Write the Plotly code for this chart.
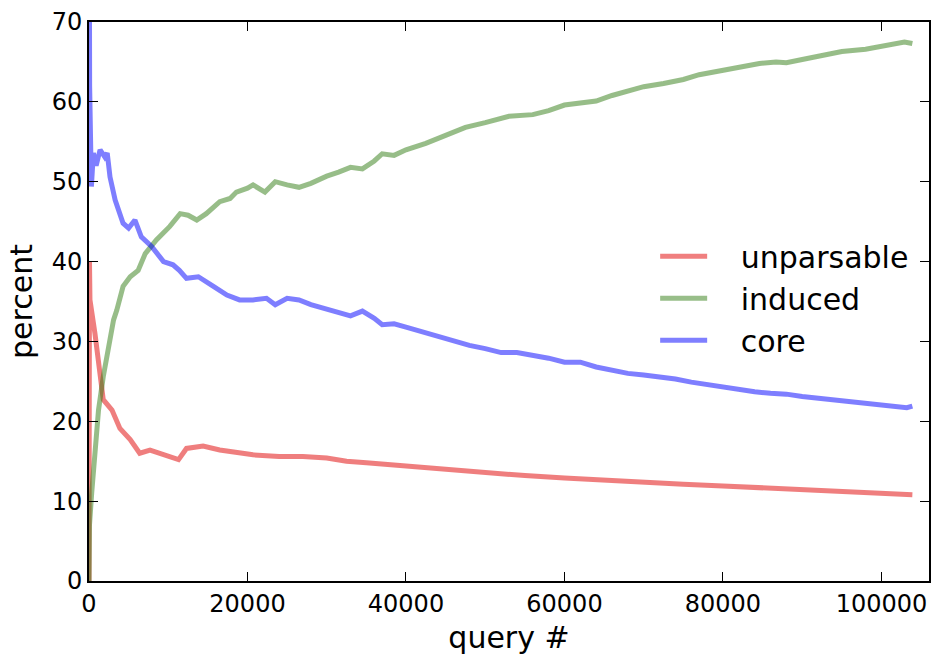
import plotly.graph_objects as go

# ---- data ----
core_x = [0, 80, 300, 550, 900, 1400, 2000, 2300, 2650, 3300, 4300, 5000, 5800, 6600, 7900,
          9400, 10600, 11400, 12300, 13800, 15700, 17400, 19000, 20700, 22400, 23500, 25000,
          26500, 28000, 30000, 31500, 33000, 34500, 36000, 37000, 38500, 40000, 42000, 44000,
          46000, 48000, 50000, 52000, 54000, 56000, 58000, 60000, 62000, 64000, 66000, 68000,
          70000, 72000, 74000, 76000, 78000, 80000, 82000, 84000, 86000, 88000, 90000, 92000,
          94000, 96000, 98000, 100000, 102000, 103200, 103900]
core_y = [100, 62, 49.4, 53.6, 52.0, 54.0, 53.1, 53.6, 50.6, 47.7, 44.8, 44.2, 45.2, 43.1, 41.9,
          40.0, 39.6, 38.9, 37.9, 38.1, 36.9, 35.8, 35.2, 35.2, 35.4, 34.6, 35.4,
          35.2, 34.6, 34.0, 33.5, 33.2, 33.8, 32.9, 32.1, 32.2, 31.8, 31.2, 30.6,
          30.1, 29.5, 29.1, 28.6, 28.6, 28.3, 27.9, 27.4, 27.4, 26.8, 26.4, 26.0,
          25.8, 25.6, 25.3, 24.9, 24.6, 24.2, 24.0, 23.7, 23.5, 23.4, 23.1, 22.9,
          22.6, 22.4, 22.3, 22.1, 21.8, 21.7, 21.9]

induced_x = [0, 60, 340, 1200, 1800, 2650, 3100, 3500, 4300, 5200, 6200, 7100, 8500, 10200,
             11500, 12500, 13600, 14800, 16500, 17800, 18600, 20000, 20700, 22200, 23500,
             25000, 26500, 28000, 30000, 31500, 33000, 34500, 36000, 37000, 38500, 40000,
             42500, 45000, 47500, 50000, 53000, 56000, 58000, 60000, 62000, 64000, 66000,
             68000, 70000, 72500, 75000, 77000, 80000, 82500, 84600, 86700, 88000, 90000,
             92500, 95000, 98000, 100000, 102900, 103900]
induced_y = [0, 7, 11.0, 21.4, 25.6, 30.2, 32.7, 33.9, 36.9, 38.1, 38.9, 41.0, 42.7, 44.4,
             46.0, 45.8, 45.2, 46.0, 47.5, 47.9, 48.7, 49.2, 49.6, 48.7, 50.0,
             49.6, 49.3, 49.8, 50.7, 51.2, 51.8, 51.6, 52.6, 53.5, 53.3, 54.0,
             54.8, 55.8, 56.8, 57.4, 58.2, 58.4, 58.9, 59.6, 59.9, 60.1, 60.8,
             61.4, 61.9, 62.3, 62.8, 63.4, 64.0, 64.4, 64.8, 65.0, 64.9, 65.3,
             65.8, 66.3, 66.6, 67.0, 67.5, 67.3]

unparsable_x = [0, 60, 120, 750, 1400, 1800, 2900, 3900, 5200, 6400, 7700, 9400, 11300, 12300,
                14400, 16500, 19000, 20700, 24000, 27000, 30000, 32500, 35000, 37500, 40000,
                45000, 50000, 55000, 60000, 65000, 70000, 75000, 80000, 85000, 90000, 95000,
                100000, 103900]
unparsable_y = [0, 40, 35.2, 31.0, 25.6, 22.7, 21.4, 19.1, 17.7, 16.0, 16.4, 15.8, 15.2, 16.6,
                16.9, 16.4, 16.1, 15.8, 15.6, 15.6, 15.4, 15.0, 14.8, 14.6, 14.4,
                13.9, 13.6, 13.2, 12.9, 12.6, 12.3, 12.1, 11.9, 11.7, 11.4, 11.2,
                11.0, 10.8]

series_names = ["unparsable", "induced", "core"]
x_ticks = [0, 20000, 40000, 60000, 80000, 100000]
y_ticks = [0, 10, 20, 30, 40, 50, 60, 70]

FONT = "DejaVu Sans"
PAD = "\u00a0\u00a0\u00a0"

fig = go.Figure()
fig.add_trace(go.Scatter(x=unparsable_x, y=unparsable_y, mode="lines", name=PAD + series_names[0],
                         line=dict(color="rgb(225,0,0)", width=5), opacity=0.5))
fig.add_trace(go.Scatter(x=induced_x, y=induced_y, mode="lines", name=PAD + series_names[1],
                         line=dict(color="rgb(50,125,20)", width=5), opacity=0.5))
fig.add_trace(go.Scatter(x=core_x, y=core_y, mode="lines", name=PAD + series_names[2],
                         line=dict(color="rgb(0,0,255)", width=5), opacity=0.5))

axis_common = dict(showgrid=False, zeroline=False, showline=True, linecolor="black",
                   linewidth=2, mirror="allticks", ticks="inside", ticklen=9, tickwidth=1,
                   tickcolor="black", automargin=False,
                   tickfont=dict(family=FONT, size=24, color="black"))

fig.update_layout(
    width=933, height=655,
    margin=dict(l=89, r=4, t=22, b=74),
    paper_bgcolor="white", plot_bgcolor="white",
    font=dict(family=FONT, color="black"),
    showlegend=True,
    legend=dict(x=0.674, y=0.506, xanchor="left", yanchor="middle",
                font=dict(family=FONT, size=30, color="black"),
                bgcolor="rgba(0,0,0,0)", tracegroupgap=0, itemwidth=47),
    xaxis=dict(range=[0, 106000], tickvals=x_ticks, ticktext=[str(v) for v in x_ticks],
               title=dict(text="query #", font=dict(family=FONT, size=30), standoff=15),
               **axis_common),
    yaxis=dict(range=[0, 70], tickvals=y_ticks, ticktext=[str(v) for v in y_ticks],
               title=dict(text="percent", font=dict(family=FONT, size=30), standoff=10),
               **axis_common),
)

fig.write_html("out.html", config={"displayModeBar": False},
               post_script="document.body.style.margin='0';")
